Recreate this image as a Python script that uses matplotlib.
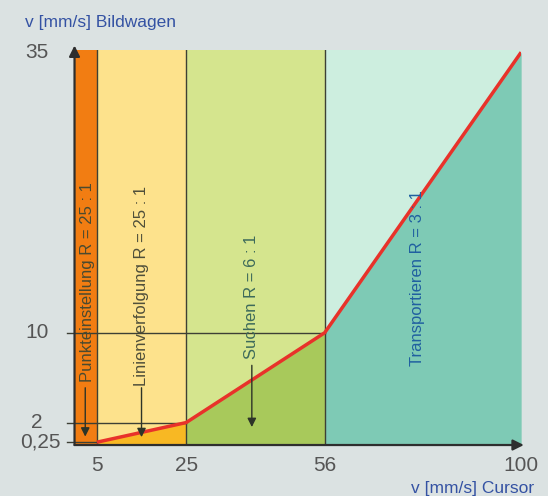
import matplotlib
matplotlib.use("Agg")
import matplotlib.pyplot as plt
import matplotlib.transforms as mtransforms

# ---- data ----
cursor = [5, 25, 56, 100]            # v [mm/s] Cursor
wagen = [0.25, 2, 10, 35]            # v [mm/s] Bildwagen
zone_edges = [0, 5, 25, 56, 100]
zone_names = ["Punkteinstellung R = 25 : 1", "Linienverfolgung R = 25 : 1",
              "Suchen R = 6 : 1", "Transportieren R = 3 : 1"]
x_ticks = [5, 25, 56, 100]
x_tick_labels = ["5", "25", "56", "100"]
y_ticks = [0.25, 2, 10, 35]
y_tick_labels = ["0,25", "2", "10", "35"]

plt.rcParams['font.family'] = ['Liberation Sans', 'DejaVu Sans']

bg = "#dbe2e2"
fig = plt.figure(figsize=(5.48, 4.96), dpi=100, facecolor=bg)
ax = fig.add_axes([0.136, 0.1028, 0.815, 0.7964])
ax.set_facecolor(bg)
YTOP = 35.2
ax.set_xlim(0, 100)
ax.set_ylim(0, YTOP)
for s in ax.spines.values():
    s.set_visible(False)

upper_cols = ["#f27d12", "#fde28c", "#d5e58e", "#cdeedf"]
lower_cols = ["#f27d12", "#f8b823", "#a8c95b", "#7ecab5"]

# zone backgrounds
for i in range(4):
    ax.fill_between([zone_edges[i], zone_edges[i + 1]], 0, YTOP,
                    color=upper_cols[i], lw=0, zorder=1)
# fills below the curve
for i in range(3):
    ax.fill_between(cursor[i:i + 2], 0, wagen[i:i + 2],
                    color=lower_cols[i + 1], lw=0, zorder=2)

lc = "#3d4035"
# vertical zone borders
for xv in zone_edges[1:4]:
    ax.plot([xv, xv], [0, YTOP], color=lc, lw=1.0, zorder=3)
# horizontal guide lines
for xv, yv in zip(cursor[:3], wagen[:3]):
    ax.plot([-1.6, xv], [yv, yv], color=lc, lw=1.0, zorder=3, clip_on=False)

# curve
ax.plot(cursor, wagen, color="#e8322a", lw=2.5, zorder=5, solid_capstyle='butt')

# axes arrows
ax.annotate("", xy=(0, 35.6), xytext=(0, 0),
            arrowprops=dict(arrowstyle='-|>', color="#2e2e2e", lw=1.6,
                            mutation_scale=16, shrinkA=0, shrinkB=0),
            annotation_clip=False, zorder=6)
ax.annotate("", xy=(100.6, 0), xytext=(0, 0),
            arrowprops=dict(arrowstyle='-|>', color="#2e2e2e", lw=1.6,
                            mutation_scale=16, shrinkA=0, shrinkB=0),
            annotation_clip=False, zorder=6)

# tick labels
ax.set_xticks([])
ax.set_yticks([])
tc = "#555555"
for xv, lab in zip(x_ticks, x_tick_labels):
    ax.text(xv, -1.8, lab, ha='center', va='center', fontsize=15, color=tc,
            clip_on=False)
ybt = mtransforms.blended_transform_factory(ax.transAxes, ax.transData)
for yv, lab in zip(y_ticks, y_tick_labels):
    ax.text(-0.085 if lab != "0,25" else -0.077, yv, lab, transform=ybt,
            ha='center', va='center', fontsize=15, color=tc, clip_on=False)

# axis titles
fig.text(25 / 548, 1 - 23 / 496, "v [mm/s] Bildwagen", ha='left', va='center',
         fontsize=12.5, color="#3452a3")
fig.text(534 / 548, 1 - 488 / 496, "v [mm/s] Cursor", ha='right', va='center',
         fontsize=12.5, color="#3452a3")

# zone labels (rotated) and arrows
label_x = [2.9, 15.0, 39.7, 76.7]
label_y = [14.5, 14.2, 13.2, 14.9]
label_col = ["#4a4a30", "#4f4f3a", "#3d6a5a", "#2060a0"]
for i in range(4):
    ax.text(label_x[i], label_y[i], zone_names[i], rotation=90, ha='center',
            va='center', fontsize=12, color=label_col[i], zorder=7)
arrow_x = [2.4, 15.0, 39.7]
arrow_y0 = [5.1, 5.1, 7.1]
arrow_y1 = [0.75, 0.7, 1.6]
for i in range(3):
    ax.annotate("", xy=(arrow_x[i], arrow_y1[i]), xytext=(arrow_x[i], arrow_y0[i]),
                arrowprops=dict(arrowstyle='-|>', color="#2d3428", lw=1.0,
                                mutation_scale=13, shrinkA=0, shrinkB=0),
                zorder=7)

fig.savefig("out.png", dpi=100, facecolor=bg)
